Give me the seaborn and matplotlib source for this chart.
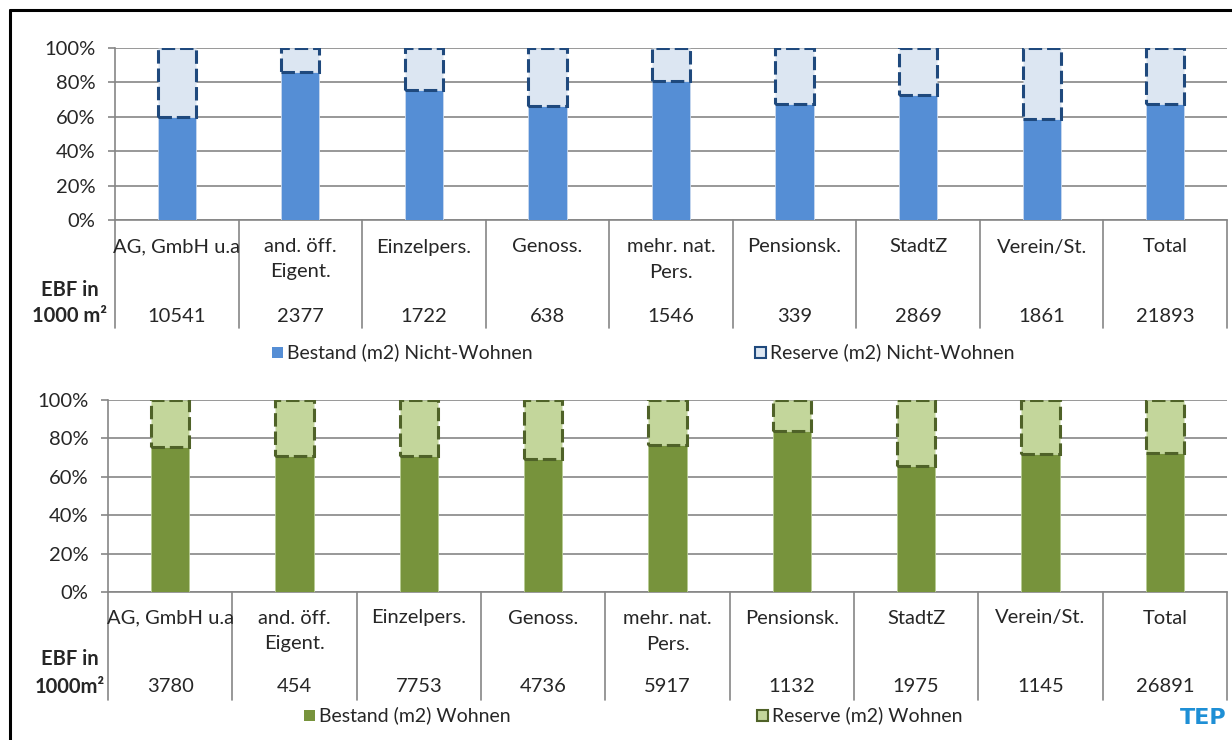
import matplotlib
matplotlib.use("Agg")
import matplotlib.pyplot as plt
from matplotlib.patches import Rectangle
from matplotlib.lines import Line2D
import seaborn as sns
import pandas as pd

# ---- data -------------------------------------------------------------
categories = ["AG, GmbH u.a", "and. öff.\nEigent.", "Einzelpers.", "Genoss.",
              "mehr. nat.\nPers.", "Pensionsk.", "StadtZ", "Verein/St.", "Total"]

# share of existing floor area (Bestand) in %, the rest is reserve
nw_bestand_pct = [60, 86, 75.5, 66, 81, 67.5, 72.5, 58.5, 67.5]
w_bestand_pct = [75.5, 71, 71, 69.5, 76.5, 84, 65.5, 72, 72.5]

# EBF in 1000 m2
nw_ebf = [10541, 2377, 1722, 638, 1546, 339, 2869, 1861, 21893]
w_ebf = [3780, 454, 7753, 4736, 5917, 1132, 1975, 1145, 26891]

yticks = [0, 20, 40, 60, 80, 100]
ytick_labels = ["0%", "20%", "40%", "60%", "80%", "100%"]

nw_labels = ["Bestand (m2) Nicht-Wohnen", "Reserve (m2) Nicht-Wohnen"]
w_labels = ["Bestand (m2) Wohnen", "Reserve (m2) Wohnen"]

# ---- style ------------------------------------------------------------
sns.set_style("white")
plt.rcParams["font.family"] = ["Lato", "DejaVu Sans"]
FS = 14.5
GRID = "#868686"

W, H = 1232, 740
fig = plt.figure(figsize=(W / 100, H / 100), dpi=100)


def fx(x):
    return x / W


def fy(y):
    return 1 - y / H


def add_px_axes(left, top, right, bottom):
    return fig.add_axes([fx(left), fy(bottom), fx(right) - fx(left), fy(top) - fy(bottom)])


def panel(left, right, top, zero, table_bottom, bestand, ebf, c_fill, c_thin, c_res,
          c_edge, lab_rows, ebf_rows, ebf_unit):
    ax = add_px_axes(left, top, right, zero)
    df = pd.DataFrame({"cat": categories, "bestand": bestand})
    df["reserve"] = 100 - df["bestand"]
    sns.barplot(data=df, x="cat", y="bestand", color=c_fill, saturation=1,
                width=0.31, errorbar=None, ax=ax, edgecolor=c_thin,
                linewidth=0.6, zorder=3)
    sns.barplot(data=df, x="cat", y="reserve", color=c_res, saturation=1,
                width=0.31, errorbar=None, ax=ax, bottom=df["bestand"].to_numpy(),
                edgecolor=c_edge, linewidth=2.2, linestyle=(0, (4.4, 1.6)), zorder=4)
    ax.set_xlim(-0.5, len(categories) - 0.5)
    ax.set_ylim(0, 100)
    ax.set_yticks(yticks)
    ax.set_yticklabels(ytick_labels, fontsize=FS)
    ax.set_xticks([])
    ax.set_xlabel("")
    ax.set_ylabel("")
    ax.yaxis.grid(True, color=GRID, lw=1.2)
    ax.set_axisbelow(True)
    for s in ["top", "right"]:
        ax.spines[s].set_visible(False)
    for s in ["left", "bottom"]:
        ax.spines[s].set_color(GRID)
        ax.spines[s].set_linewidth(1.2)
    ax.tick_params(axis="y", length=5, width=1.2, color=GRID, pad=9, left=True)

    # table below the chart
    tab = add_px_axes(left, zero, right, table_bottom)
    tab.set_xlim(-0.5, len(categories) - 0.5)
    tab.set_ylim(table_bottom, zero)
    tab.axis("off")
    for i in range(len(categories) + 1):
        tab.plot([i - 0.5, i - 0.5], [zero, table_bottom], color=GRID, lw=1.2,
                 clip_on=False)
    for i, (lab, val) in enumerate(zip(categories, ebf)):
        for k, line in enumerate(lab.split("\n")):
            tab.text(i, lab_rows[k], line, ha="center", va="center", fontsize=FS)
        tab.text(i, lab_rows[2], str(val), ha="center", va="center", fontsize=FS)
    fig.text(fx(70), fy(ebf_rows[0]), "EBF in", ha="center", va="center",
             fontsize=FS, fontweight="bold")
    fig.text(fx(70), fy(ebf_rows[1]), ebf_unit, ha="center", va="center",
             fontsize=FS, fontweight="bold")
    return ax


def legend_item(x, y, label, fill, edge, dashed):
    s = 11
    r = Rectangle((fx(x), fy(y + s / 2)), fx(s), s / H, transform=fig.transFigure,
                  facecolor=fill, edgecolor=edge if dashed else fill,
                  lw=1.5 if dashed else 0)
    fig.add_artist(r)
    fig.text(fx(x + s + 4), fy(y), label, ha="left", va="center", fontsize=14)


# top: non-residential
panel(115, 1227, 48, 220, 328, nw_bestand_pct, nw_ebf,
      "#558ED5", "#c9d9ee", "#DCE6F2", "#1F497D", (247, 272, 316), (290, 316), "1000 m²")
legend_item(272, 352, nw_labels[0], "#558ED5", "#558ED5", False)
legend_item(755, 352, nw_labels[1], "#DCE6F2", "#1F497D", True)

# bottom: residential
panel(108, 1227, 400, 592, 700, w_bestand_pct, w_ebf,
      "#77933C", "#b8cc94", "#C3D69B", "#4F6228", (618, 644, 687), (659, 687), "1000m²")
legend_item(304, 715, w_labels[0], "#77933C", "#77933C", False)
legend_item(757, 715, w_labels[1], "#C3D69B", "#4F6228", True)

# frame lines
fig.add_artist(Line2D([fx(10), 1], [fy(10), fy(10)], color="black", lw=2.2,
                      transform=fig.transFigure))
fig.add_artist(Line2D([fx(10), fx(10)], [fy(10), 0], color="black", lw=2.2,
                      transform=fig.transFigure))

# logo
fig.text(fx(1226), fy(718), "TEP", ha="right", va="center", fontsize=16,
         fontweight="heavy", color="#1E8FD5", family="DejaVu Sans")

fig.savefig("out.png", dpi=100)
